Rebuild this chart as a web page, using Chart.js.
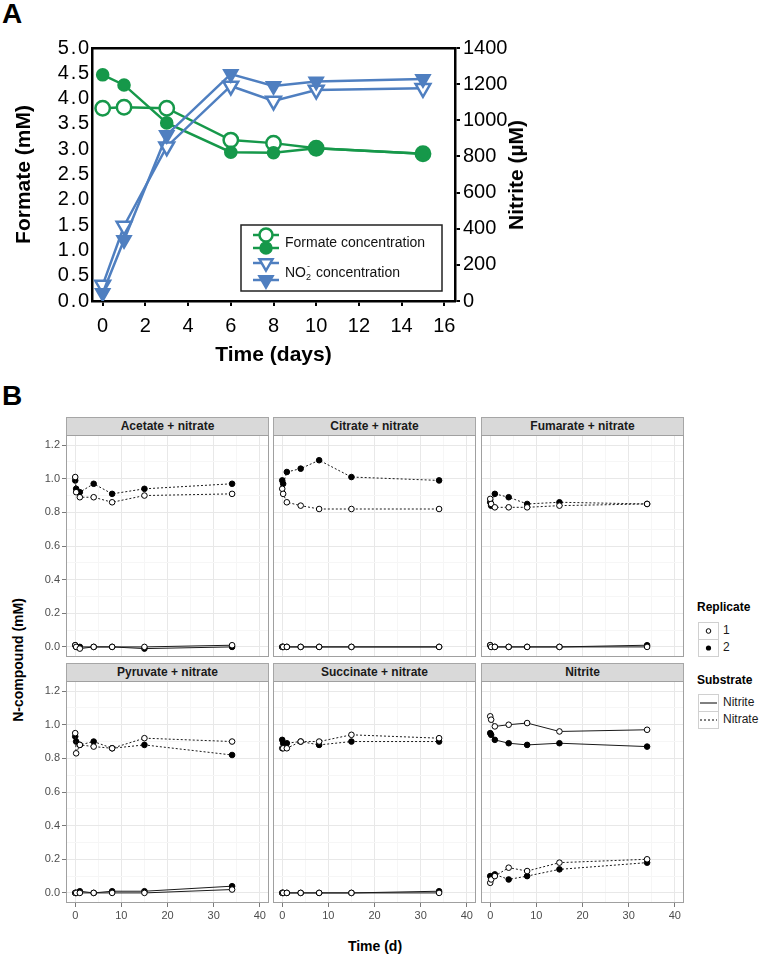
<!DOCTYPE html>
<html>
<head>
<meta charset="utf-8">
<script src="https://cdn.jsdelivr.net/npm/chart.js@4.4.1/dist/chart.umd.min.js"></script>
<style>
  body { margin: 0; background: #fff; font-family: "Liberation Sans", Arial, sans-serif; }
  #page { position: relative; width: 762px; height: 958px; overflow: hidden; background: #fff; }
  canvas { position: absolute; }
  .abs { position: absolute; white-space: nowrap; }
  .letter { position: absolute; font-weight: bold; font-size: 28px; color: #000; }
  .strip { position: absolute; box-sizing: border-box; height: 19px; background: #d9d9d9; border: 1px solid #a6a6a6;
           font-weight: bold; font-size: 12px; color: #1a1a1a; text-align: center; line-height: 17px; }
  .rot { transform: translate(-50%, -50%) rotate(-90deg); }
  .legT { font-weight: bold; font-size: 12px; color: #000; }
  .legL { font-size: 12px; color: #1a1a1a; }
  .key { position: absolute; box-sizing: border-box; width: 21px; height: 18px; border: 1px solid #d0d0d0; background: #fff; }
</style>
</head>
<body>
<div id="page">
  <div class="letter" style="left:2px;top:-2px">A</div>
  <canvas id="chartA" width="545" height="345" style="left:0;top:30px"></canvas>
  <div class="abs rot" style="left:516px;top:175px;font-weight:bold;font-size:21px">Nitrite (µM)</div>

  <div class="letter" style="left:2px;top:380px">B</div>
  <div class="abs rot" style="left:18px;top:660px;font-weight:bold;font-size:14px">N-compound (mM)</div>
  <div class="abs" style="left:375px;top:946px;transform:translate(-50%,-50%);font-weight:bold;font-size:14px">Time (d)</div>

  <div class="abs legT" style="left:697px;top:600px">Replicate</div>
  <div class="key" style="left:698px;top:622px"><svg width="19" height="16"><circle cx="9.5" cy="8" r="2.3" fill="#fff" stroke="#000" stroke-width="1"/></svg></div>
  <div class="key" style="left:698px;top:639px"><svg width="19" height="16"><circle cx="9.5" cy="8" r="2.6" fill="#000"/></svg></div>
  <div class="abs legL" style="left:723px;top:623px">1</div>
  <div class="abs legL" style="left:723px;top:640px">2</div>

  <div class="abs legT" style="left:697px;top:673px">Substrate</div>
  <div class="key" style="left:698px;top:694px"><svg width="19" height="16"><line x1="1" y1="8" x2="18" y2="8" stroke="#000" stroke-width="1"/></svg></div>
  <div class="key" style="left:698px;top:711px"><svg width="19" height="16"><line x1="1" y1="8" x2="18" y2="8" stroke="#000" stroke-width="1" stroke-dasharray="2,2"/></svg></div>
  <div class="abs legL" style="left:723px;top:695px">Nitrite</div>
  <div class="abs legL" style="left:723px;top:712px">Nitrate</div>
</div>

<script>
// ---- Panel A data ----
const daysA = [0, 1, 3, 6, 8, 10, 15];
const formateOpen = [3.81, 3.83, 3.81, 3.18, 3.12, 3.02, 2.91];
const formateFilled = [4.47, 4.27, 3.52, 2.94, 2.93, 3.02, 2.91];
const nitriteOpen = [88, 415, 854, 1190, 1107, 1168, 1177];
const nitriteFilled = [44, 338, 919, 1256, 1190, 1214, 1229];
const dayTicksA = [0, 2, 4, 6, 8, 10, 12, 14, 16];
const formateTicks = [0, 0.5, 1, 1.5, 2, 2.5, 3, 3.5, 4, 4.5, 5];
const nitriteTicks = [0, 200, 400, 600, 800, 1000, 1200, 1400];

// ---- Panel B data ----
const timeB = [0, 0.2, 1, 4, 8, 15, 34];
const facetNames = ['Acetate + nitrate', 'Citrate + nitrate', 'Fumarate + nitrate',
                    'Pyruvate + nitrate', 'Succinate + nitrate', 'Nitrite'];
// nitrate measured, replicate 1 / 2
const nitrateRep1 = [
  [1.01, 0.92, 0.89, 0.89, 0.86, 0.90, 0.91],
  [0.94, 0.91, 0.86, 0.84, 0.82, 0.82, 0.82],
  [0.88, 0.85, 0.83, 0.83, 0.83, 0.84, 0.85],
  [0.95, 0.83, 0.88, 0.87, 0.86, 0.92, 0.90],
  [0.86, 0.86, 0.86, 0.90, 0.90, 0.94, 0.92],
  [0.06, 0.08, 0.10, 0.15, 0.13, 0.18, 0.20]
];
const nitrateRep2 = [
  [0.99, 0.94, 0.92, 0.97, 0.91, 0.94, 0.97],
  [0.99, 0.97, 1.04, 1.06, 1.11, 1.01, 0.99],
  [0.86, 0.84, 0.91, 0.89, 0.85, 0.86, 0.85],
  [0.93, 0.90, 0.88, 0.90, 0.86, 0.88, 0.82],
  [0.91, 0.89, 0.89, 0.90, 0.88, 0.90, 0.90],
  [0.10, 0.09, 0.11, 0.08, 0.10, 0.14, 0.18]
];
// nitrite measured, replicate 1 / 2
const nitriteRep1 = [
  [0.01, 0.00, -0.01, 0.00, 0.00, 0.00, 0.01],
  [0.00, 0.00, 0.00, 0.00, 0.00, 0.00, 0.00],
  [0.01, 0.00, 0.00, 0.00, 0.00, 0.00, 0.00],
  [0.00, 0.00, 0.00, 0.00, 0.00, 0.00, 0.02],
  [0.00, 0.00, 0.00, 0.00, 0.00, 0.00, 0.00],
  [1.05, 1.03, 0.99, 1.00, 1.01, 0.96, 0.97]
];
const nitriteRep2 = [
  [0.01, 0.00, 0.00, 0.00, 0.00, -0.01, 0.00],
  [0.00, 0.00, 0.00, 0.00, 0.00, 0.00, 0.00],
  [0.01, 0.00, 0.00, 0.00, 0.00, 0.00, 0.01],
  [0.00, 0.00, 0.01, 0.00, 0.01, 0.01, 0.04],
  [0.00, 0.00, 0.00, 0.00, 0.00, 0.00, 0.01],
  [0.95, 0.94, 0.91, 0.89, 0.88, 0.89, 0.87]
];
const timeGridB = [0, 5, 10, 15, 20, 25, 30, 35, 40];
const nGridB = [0, 0.1, 0.2, 0.3, 0.4, 0.5, 0.6, 0.7, 0.8, 0.9, 1.0, 1.1, 1.2];

const FONT = '"Liberation Sans", Arial, sans-serif';
const GREEN = '#16984a';
const BLUE = '#4f7fc0';

// ---------- helpers ----------
function pts(xs, ys) { return xs.map((x, i) => ({ x: x, y: ys[i] })); }

function fixedTicks(list) {
  return scale => { scale.ticks = list.map(v => ({ value: v })); };
}
// fixed axis thickness, no extra label padding pushed into the layout
function fixSize(prop, size) {
  return s => {
    s[prop] = size;
    s.paddingTop = 0; s.paddingBottom = 0; s.paddingLeft = 0; s.paddingRight = 0;
  };
}

function circleAt(ctx, x, y, r, fill, stroke) {
  ctx.beginPath();
  ctx.arc(x, y, r, 0, Math.PI * 2);
  ctx.fillStyle = fill; ctx.fill();
  ctx.strokeStyle = stroke; ctx.stroke();
}
function downTriAt(ctx, x, y, r, fill, stroke) {
  const s = Math.sin(Math.PI / 3) * r;
  ctx.beginPath();
  ctx.moveTo(x, y + r);
  ctx.lineTo(x - s, y - r / 2);
  ctx.lineTo(x + s, y - r / 2);
  ctx.closePath();
  ctx.fillStyle = fill; ctx.fill();
  ctx.strokeStyle = stroke; ctx.stroke();
}

// ---------- Panel A ----------
const legendA = {
  id: 'legendA',
  afterDraw(chart) {
    const ctx = chart.ctx;
    ctx.save();
    ctx.lineWidth = 1.5;
    ctx.strokeStyle = '#222';
    ctx.strokeRect(241, 195, 201, 66);
    ctx.lineWidth = 2.5;
    [[205, '#fff'], [218, GREEN]].forEach(([y, f]) => {
      ctx.strokeStyle = GREEN;
      ctx.beginPath(); ctx.moveTo(253, y); ctx.lineTo(279, y); ctx.stroke();
      circleAt(ctx, 266, y, f === '#fff' ? 6.5 : 5.5, f, GREEN);
    });
    [[233, '#fff'], [250, BLUE]].forEach(([y, f]) => {
      ctx.strokeStyle = BLUE;
      ctx.beginPath(); ctx.moveTo(253, y); ctx.lineTo(279, y); ctx.stroke();
      downTriAt(ctx, 266, y, 7.5, f, BLUE);
    });
    ctx.fillStyle = '#111';
    ctx.textBaseline = 'middle';
    ctx.font = '14px ' + FONT;
    ctx.fillText('Formate concentration', 285, 213);
    let x = 285;
    ctx.fillText('NO', x, 243);
    x += ctx.measureText('NO').width;
    ctx.font = '9px ' + FONT;
    ctx.fillText('2', x, 248);
    ctx.fillText('-', x + 1, 237);
    x += ctx.measureText('2').width + 1;
    ctx.font = '14px ' + FONT;
    ctx.fillText(' concentration', x, 243);
    ctx.restore();
  }
};

new Chart(document.getElementById('chartA'), {
  type: 'line',
  data: {
    datasets: [
      { data: pts(daysA, nitriteFilled), yAxisID: 'y2', borderColor: BLUE, borderWidth: 2.5,
        pointStyle: 'triangle', pointRotation: 180, pointRadius: 8, pointBackgroundColor: BLUE,
        pointBorderColor: BLUE, pointBorderWidth: 2 },
      { data: pts(daysA, nitriteOpen), yAxisID: 'y2', borderColor: BLUE, borderWidth: 2.5,
        pointStyle: 'triangle', pointRotation: 180, pointRadius: 8.5, pointBackgroundColor: '#fff',
        pointBorderColor: BLUE, pointBorderWidth: 2.5 },
      { data: pts(daysA, formateFilled), yAxisID: 'y', borderColor: GREEN, borderWidth: 2.5,
        pointRadius: 5.8, pointBackgroundColor: GREEN, pointBorderColor: GREEN, pointBorderWidth: 2 },
      { data: pts(daysA, formateOpen), yAxisID: 'y', borderColor: GREEN, borderWidth: 2.5,
        pointRadius: 7.2, pointBackgroundColor: '#fff', pointBorderColor: GREEN, pointBorderWidth: 2.5 }
    ]
  },
  options: {
    responsive: false, animation: false, devicePixelRatio: 1,
    layout: { padding: 0, autoPadding: false },
    plugins: { legend: { display: false }, tooltip: { enabled: false } },
    scales: {
      x: {
        type: 'linear', position: 'bottom', min: -0.5, max: 16.5,
        afterBuildTicks: fixedTicks(dayTicksA),
        afterFit: fixSize('height', 74),
        grid: { drawOnChartArea: false, drawTicks: true, tickLength: 5, color: '#000', lineWidth: 2 },
        border: { display: true, color: '#000', width: 2.5 },
        ticks: { color: '#000', font: { size: 20, family: FONT }, padding: 8, maxRotation: 0, autoSkip: false },
        title: { display: true, text: 'Time (days)', color: '#000',
                 font: { size: 21, weight: 'bold', family: FONT }, padding: { top: 0, bottom: 7 } }
      },
      x2: {
        type: 'linear', position: 'top', min: -0.5, max: 16.5,
        afterFit: fixSize('height', 18),
        grid: { display: false }, ticks: { display: false },
        border: { display: true, color: '#000', width: 2.5 }
      },
      y: {
        position: 'left', min: 0, max: 5,
        afterBuildTicks: fixedTicks(formateTicks),
        afterFit: fixSize('width', 92),
        grid: { drawOnChartArea: false, drawTicks: false },
        border: { display: true, color: '#000', width: 2.5 },
        ticks: { color: '#000', font: { size: 20, family: FONT }, padding: 3, autoSkip: false,
                 callback: v => v.toFixed(1).replace('.', '\u200a.\u200a') },
        title: { display: true, text: 'Formate (mM)', color: '#000',
                 font: { size: 21, weight: 'bold', family: FONT }, padding: { top: 12, bottom: 0 } }
      },
      y2: {
        position: 'right', min: 0, max: 1400,
        afterBuildTicks: fixedTicks(nitriteTicks),
        afterFit: fixSize('width', 90),
        grid: { drawOnChartArea: false, drawTicks: true, tickLength: 5, color: '#000', lineWidth: 2 },
        border: { display: true, color: '#000', width: 2.5 },
        ticks: { color: '#000', font: { size: 20, family: FONT }, padding: 3, autoSkip: false,
                 callback: v => String(v) }
      }
    }
  },
  plugins: [legendA]
});

// ---------- Panel B facets ----------
const colLeft = [66, 273, 481];
const rowTop = [435, 681];
const panelW = 203, panelH = 222;
const page = document.getElementById('page');

const panelBorder = {
  id: 'panelBorder',
  afterDraw(chart) {
    const a = chart.chartArea, ctx = chart.ctx;
    ctx.save();
    ctx.strokeStyle = '#a0a0a0';
    ctx.lineWidth = 1;
    ctx.strokeRect(a.left + 0.5, a.top + 0.5, a.right - a.left - 1, a.bottom - a.top - 1);
    ctx.restore();
  }
};

function series(vals, filled, dashed) {
  return {
    data: pts(timeB, vals),
    borderColor: '#1a1a1a', borderWidth: 1, borderDash: dashed ? [2, 2] : [],
    pointRadius: 2.8, pointBorderWidth: 1, pointBorderColor: '#000',
    pointBackgroundColor: filled ? '#000' : '#fff'
  };
}

const isMajorX = v => v % 10 === 0;
const isMajorY = v => Math.round(v * 10) % 2 === 0;

facetNames.forEach((name, k) => {
  const c = k % 3, r = Math.floor(k / 3);
  const showY = c === 0, showX = r === 1;
  const padL = showY ? 36 : 0, padB = showX ? 24 : 0;

  const strip = document.createElement('div');
  strip.className = 'strip';
  strip.style.left = colLeft[c] + 'px';
  strip.style.top = (rowTop[r] - 18) + 'px';
  strip.style.width = panelW + 'px';
  strip.textContent = name;
  page.appendChild(strip);

  const cv = document.createElement('canvas');
  cv.width = panelW + padL;
  cv.height = panelH + padB;
  cv.style.left = (colLeft[c] - padL) + 'px';
  cv.style.top = rowTop[r] + 'px';
  page.appendChild(cv);

  new Chart(cv, {
    type: 'line',
    data: {
      datasets: [
        series(nitrateRep1[k], false, true),
        series(nitrateRep2[k], true, true),
        series(nitriteRep1[k], false, false),
        series(nitriteRep2[k], true, false)
      ]
    },
    options: {
      responsive: false, animation: false, devicePixelRatio: 1,
      layout: { padding: 0, autoPadding: false },
      plugins: { legend: { display: false }, tooltip: { enabled: false } },
      scales: {
        x: {
          type: 'linear', min: -2, max: 42,
          afterBuildTicks: fixedTicks(timeGridB),
          afterFit: fixSize('height', padB),
          grid: {
            color: ctx => isMajorX(ctx.tick.value) ? '#e8e8e8' : '#f6f6f6',
            lineWidth: 1, drawTicks: showX, tickLength: 4,
            tickColor: ctx => isMajorX(ctx.tick.value) ? '#7a7a7a' : 'rgba(0,0,0,0)'
          },
          border: { display: false },
          ticks: { display: showX, color: '#4d4d4d', font: { size: 11, family: FONT }, padding: 2,
                   maxRotation: 0, autoSkip: false, callback: v => isMajorX(v) ? String(v) : '' }
        },
        y: {
          min: -0.06, max: 1.26,
          afterBuildTicks: fixedTicks(nGridB),
          afterFit: fixSize('width', padL),
          grid: {
            color: ctx => isMajorY(ctx.tick.value) ? '#e8e8e8' : '#f6f6f6',
            lineWidth: 1, drawTicks: showY, tickLength: 4,
            tickColor: ctx => isMajorY(ctx.tick.value) ? '#7a7a7a' : 'rgba(0,0,0,0)'
          },
          border: { display: false },
          ticks: { display: showY, color: '#4d4d4d', font: { size: 11, family: FONT }, padding: 2,
                   autoSkip: false, callback: v => isMajorY(v) ? v.toFixed(1) : '' }
        }
      }
    },
    plugins: [panelBorder]
  });
});
</script>
</body>
</html>
